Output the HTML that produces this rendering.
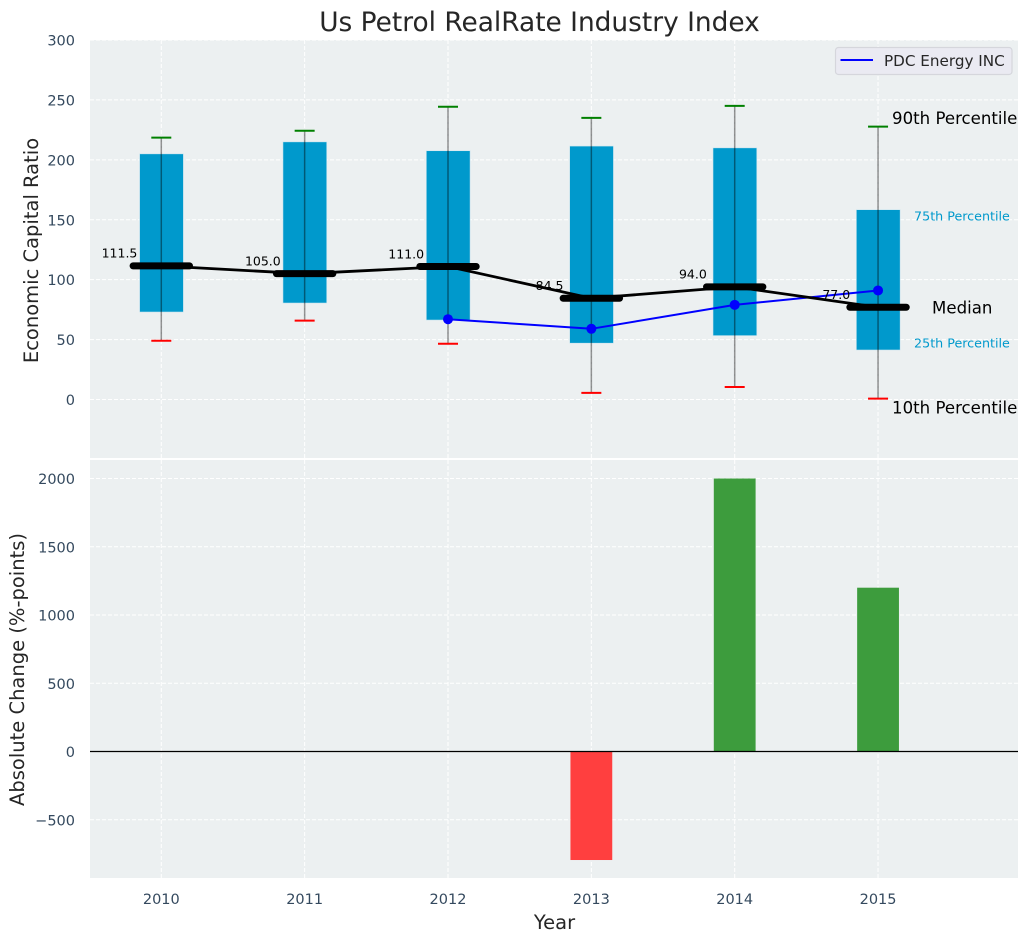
<!DOCTYPE html>
<html lang="en">
<head>
<meta charset="utf-8">
<title>Us Petrol RealRate Industry Index</title>
<style>
html,body{margin:0;padding:0;background:#fff;width:1029px;height:942px;overflow:hidden}
svg{display:block;font-family:"DejaVu Sans","Liberation Sans",sans-serif}
</style>
</head>
<body>
<svg id="chart" xmlns="http://www.w3.org/2000/svg" width="1029" height="942" viewBox="0 0 1029 942">
  <rect x="90" y="40" width="928" height="418" fill="#ecf0f1"/>
  <rect x="90" y="460" width="928" height="418" fill="#ecf0f1"/>
  <g id="grid"></g>
  <g id="top"></g>
  <g id="bottom"></g>
  <g id="ticks"></g>
  <text x="539.5" y="31" text-anchor="middle" font-size="26.4" fill="#262626">Us Petrol RealRate Industry Index</text>
  <text transform="translate(38 250.5) rotate(-90)" text-anchor="middle" font-size="19.5" fill="#262626">Economic Capital Ratio</text>
  <text transform="translate(24 669.5) rotate(-90)" text-anchor="middle" font-size="19.5" fill="#262626">Absolute Change (%-points)</text>
  <text x="554.5" y="929" text-anchor="middle" font-size="19.5" fill="#262626">Year</text>
  <g>
    <rect x="835.5" y="47.5" width="176.5" height="27" rx="3" fill="#eaeaf2" stroke="#d5d6dc" stroke-width="1.2"/>
    <line x1="840.5" y1="60" x2="873" y2="60" stroke="#0000ff" stroke-width="2"/>
    <text x="884" y="66" font-size="15.2" fill="#262626">PDC Energy INC</text>
  </g>
</svg>
<script>
const years = ['2010', '2011', '2012', '2013', '2014', '2015'];
const p10 = [49, 65.8, 46.5, 5.5, 10.4, 0.7];
const q1 = [73, 80.5, 66.3, 47, 53.3, 41.3];
const median = [111.5, 105.0, 111.0, 84.5, 94.0, 77.0];
const q3 = [205, 215, 207.6, 211.5, 210, 158.4];
const p90 = [218.5, 224.3, 244.3, 235, 245, 227.7];
const company = [null, null, 67, 59, 79, 91];
const change = [0, 0, 0, -795, 2000, 1200];
const topTicks = [0, 50, 100, 150, 200, 250, 300];
const bottomTicks = [-500, 0, 500, 1000, 1500, 2000];

const NS = 'http://www.w3.org/2000/svg';
const x = i => 161.3 + i * 143.35;
const yTop = v => 399.5 - v * 1.1983;
const yBot = v => 751.5 - v * 0.1365;
function make(tag, attrs, parent, text) {
  const el = document.createElementNS(NS, tag);
  for (const k in attrs) el.setAttribute(k, attrs[k]);
  if (text !== undefined) el.textContent = text;
  document.getElementById(parent).appendChild(el);
  return el;
}
let el;

// grid and tick labels
topTicks.forEach(t => {
  el = make('line', {x1: 90, x2: 1018, y1: yTop(t), y2: yTop(t), stroke: '#fff', 'stroke-width': 1, 'stroke-dasharray': '4 2'}, 'grid');
  
  
  el = make('text', {x: 75, y: yTop(t) + 5.5, 'text-anchor': 'end', 'font-size': 14.5, fill: '#34495e'}, 'ticks', String(t));
  
  
});
bottomTicks.forEach(t => {
  if (t !== 0) {
    el = make('line', {x1: 90, x2: 1018, y1: yBot(t), y2: yBot(t), stroke: '#fff', 'stroke-width': 1, 'stroke-dasharray': '4 2'}, 'grid');
    
    
  }
  el = make('text', {x: 75, y: yBot(t) + 5.5, 'text-anchor': 'end', 'font-size': 14.5, fill: '#34495e'}, 'ticks', String(t).replace('-', '\u2212'));
  
  
});
years.forEach((yr, i) => {
  el = make('line', {x1: x(i), x2: x(i), y1: 40, y2: 458, stroke: '#fff', 'stroke-width': 1, 'stroke-dasharray': '4 2'}, 'grid');
  
  
  el = make('line', {x1: x(i), x2: x(i), y1: 460, y2: 878, stroke: '#fff', 'stroke-width': 1, 'stroke-dasharray': '4 2'}, 'grid');
  
  
  el = make('text', {x: x(i), y: 904, 'text-anchor': 'middle', 'font-size': 14.5, fill: '#34495e'}, 'ticks', yr);
  
  
});

// percentile boxes
const boxHalf = 21.9;
years.forEach((yr, i) => {
  el = make('rect', {x: x(i) - boxHalf + 0.2, y: yTop(q3[i]), width: boxHalf * 2, height: yTop(q1[i]) - yTop(q3[i]), fill: '#0099cc', stroke: '#cfe6ef', 'stroke-width': 0.6}, 'top');
  
  
  el = make('line', {x1: x(i), x2: x(i), y1: yTop(p90[i]), y2: yTop(p10[i]), stroke: '#000', 'stroke-opacity': 0.42, 'stroke-width': 1.5}, 'top');
  
  
  el = make('line', {x1: x(i) - 10, x2: x(i) + 10, y1: yTop(p90[i]), y2: yTop(p90[i]), stroke: '#008000', 'stroke-width': 2}, 'top');
  
  
  el = make('line', {x1: x(i) - 10, x2: x(i) + 10, y1: yTop(p10[i]), y2: yTop(p10[i]), stroke: '#ff0000', 'stroke-width': 2}, 'top');
  
  
});

// company series
const companyPts = company.map((v, i) => v === null ? null : x(i) + ',' + yTop(v)).filter(Boolean).join(' ');
el = make('polyline', {points: companyPts, fill: 'none', stroke: '#0000ff', 'stroke-width': 2}, 'top');


company.forEach((v, i) => {
  if (v === null) return;
  el = make('circle', {cx: x(i), cy: yTop(v), r: 5, fill: '#0000ff'}, 'top');
  
  
});

// median line
el = make('polyline', {points: median.map((v, i) => x(i) + ',' + yTop(v)).join(' '), fill: 'none', stroke: '#000', 'stroke-width': 2.8}, 'top');


median.forEach((v, i) => {
  el = make('line', {x1: x(i) - 28.2, x2: x(i) + 28.2, y1: yTop(v), y2: yTop(v), stroke: '#000', 'stroke-width': 7, 'stroke-linecap': 'round'}, 'top');
  
  
  el = make('text', {x: x(i) - 41.8, y: yTop(v) - 8.2, 'text-anchor': 'middle', 'font-size': 12.5, fill: '#000'}, 'top', v.toFixed(1));
  
  
});

// annotations on the last box
const last = years.length - 1;
const lx = x(last);
el = make('text', {x: lx + 14, y: yTop(p90[last]) - 2.5, 'font-size': 16.6, fill: '#000'}, 'top', '90th Percentile');


el = make('text', {x: lx + 36, y: yTop(q3[last]) + 11, 'font-size': 12.7, fill: '#0099cc'}, 'top', '75th Percentile');


el = make('text', {x: lx + 54, y: yTop(median[last]) + 6.5, 'font-size': 16.6, fill: '#000'}, 'top', 'Median');


el = make('text', {x: lx + 36, y: yTop(q1[last]) - 2.5, 'font-size': 12.7, fill: '#0099cc'}, 'top', '25th Percentile');


el = make('text', {x: lx + 14, y: yTop(p10[last]) + 15, 'font-size': 16.6, fill: '#000'}, 'top', '10th Percentile');



// change bars
const barHalf = 20.9;
change.forEach((v, i) => {
  if (v === 0) return;
  const top = Math.min(yBot(v), yBot(0));
  el = make('rect', {x: x(i) - barHalf, y: top, width: barHalf * 2, height: Math.abs(yBot(v) - yBot(0)), fill: v > 0 ? '#3d9c3d' : '#ff3f3f'}, 'bottom');
  
  
});
el = make('line', {x1: 90, x2: 1018, y1: yBot(0), y2: yBot(0), stroke: '#000', 'stroke-width': 1.3}, 'bottom');


</script>
</body>
</html>
